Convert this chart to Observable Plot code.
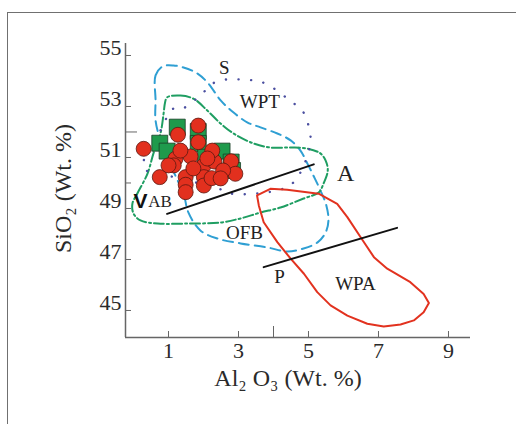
<!DOCTYPE html>
<html><head><meta charset="utf-8">
<script src="https://cdn.jsdelivr.net/npm/d3@7"></script>
<script src="https://cdn.jsdelivr.net/npm/@observablehq/plot@0.6"></script>
<style>
html,body{margin:0;padding:0;background:#fff;}
#wrap{position:relative;width:516px;height:424px;overflow:hidden;background:#fff;}
#border{position:absolute;left:7px;top:12px;width:620px;height:620px;border:1.5px solid #707070;box-sizing:border-box;}
#chart{position:absolute;left:0;top:0;}
</style></head><body>
<div id="wrap"><div id="border"></div><div id="chart"></div></div>
<script>
// Axis ticks
const xTickLabels = [1, 3, 5, 7, 9];
const xLongTicks = [4];
const yTickLabels = [45, 47, 49, 51, 53, 55];
const yShortTicks = [50];
const yLongTicks = [52];
const xDomain = [-0.229, 9.629];
const yDomain = [43.94, 55.47];

// Samples: red circles [Al2O3, SiO2]
const redCircles = [
  [0.29,51.34],[1.27,51.89],[1.85,52.25],[1.85,51.60],[1.20,50.95],[1.63,51.04],
  [0.75,50.23],[1.49,50.23],[1.49,49.93],[1.49,49.64],[2.01,50.69],[2.01,50.23],
  [2.01,49.90],[2.23,50.19],[2.31,50.84],[2.79,50.85],[2.91,50.36],[2.56,50.49],
  [1.15,50.69],[1.34,51.27],[2.25,51.27],[1.71,50.57],[1.00,50.69],[2.11,50.96],[2.49,50.18]
];
// Samples: green squares [Al2O3, SiO2]
const greenSquares = [
  [0.75,51.56],[0.96,51.25],[1.25,52.19],[1.85,52.02],[1.85,51.55],
  [2.06,51.01],[2.53,51.25],[2.79,50.82],[2.83,50.49]
];

// Field boundaries
const ofbField = [
  [0.63,53.24],[0.63,54.22],[0.83,54.57],[1.14,54.61],[1.43,54.53],[1.83,54.29],[2.14,53.90],
  [2.49,53.24],[2.86,52.76],[3.26,52.37],[3.63,52.18],[4.11,51.94],[4.49,51.67],[4.77,51.27],
  [4.97,50.76],[5.14,50.29],[5.34,49.71],[5.51,49.12],[5.57,48.53],[5.49,48.06],[5.26,47.67],
  [4.86,47.43],[4.40,47.31],[3.83,47.47],[3.06,47.63],[2.40,47.82],[1.91,48.14],[1.57,48.84],
  [1.43,49.59],[1.26,50.10],[1.00,50.88],[0.77,51.67],[0.63,52.45]
];
const vabField = [
  [0.96,53.36],[1.34,53.43],[1.72,53.30],[2.11,52.84],[2.49,52.33],[2.86,51.94],[3.43,51.55],
  [3.91,51.39],[4.49,51.39],[4.96,51.35],[5.34,51.16],[5.49,50.88],[5.55,50.49],[5.43,49.98],
  [5.29,49.63],[4.86,49.39],[4.20,49.04],[3.63,48.84],[3.06,48.61],[2.49,48.45],[1.54,48.41],
  [0.69,48.41],[0.20,48.53],[0.00,48.80],[-0.03,49.20],[0.11,49.59],[0.40,50.37],[0.57,51.16],
  [0.77,51.94],[0.86,52.73],[0.90,53.15]
];
const wptField = [
  [0.29,50.61],[0.77,52.06],[1.14,52.92],[1.40,52.92],[1.91,53.43],[2.26,53.90],[2.66,54.06],
  [3.06,54.06],[3.43,54.02],[3.77,53.90],[4.40,53.31],[4.86,52.76],[5.00,52.25],[5.06,51.67],
  [4.94,50.96],[4.77,50.41],[4.57,50.02],[4.29,49.78],[3.54,49.59],[2.77,49.59],[2.43,49.78],
  [1.34,50.18]
];
const wpaField = [
  [3.53,49.51],[3.91,49.77],[4.39,49.73],[5.29,49.58],[5.82,49.18],[6.11,48.66],[6.49,47.87],
  [6.87,47.09],[7.25,46.64],[7.91,46.11],[8.29,45.65],[8.44,45.29],[8.29,44.93],[8.01,44.61],
  [7.63,44.45],[7.15,44.37],[6.68,44.48],[6.11,44.80],[5.63,45.20],[5.25,45.72],[4.87,46.44],
  [4.49,47.03],[4.11,47.68],[3.72,48.46],[3.58,49.12]
];
const lineA = [[0.96,48.79],[5.15,50.73]];
const lineP = [[3.72,46.70],[7.53,48.24]];

// Field labels
const fieldLabels = ["S", "WPT", "A", "OFB", "P", "WPA"];
const fieldLabelX = [2.59, 3.61, 6.06, 3.17, 4.17, 6.34];
const fieldLabelY = [54.29, 52.96, 50.06, 47.82, 46.06, 45.82];
const fieldLabelSize = [19, 19, 24, 19, 19, 19];
const labelRows = fieldLabels.map((t, i) => ({t, x: fieldLabelX[i], y: fieldLabelY[i], s: fieldLabelSize[i]}));

const serif = "'Liberation Serif', 'Times New Roman', serif";

const chart = Plot.plot({
  width: 516, height: 424,
  marginLeft: 125, marginRight: 46, marginTop: 43, marginBottom: 87,
  x: {domain: xDomain},
  y: {domain: yDomain},
  style: {fontFamily: serif, color: "#2a2a2a", background: "transparent", overflow: "visible"},
  marks: [
    Plot.line(ofbField, {x: d => d[0], y: d => d[1], curve: "catmull-rom-closed", stroke: "#2f9fd3", strokeWidth: 2, strokeDasharray: "10,6"}),
    Plot.line(vabField, {x: d => d[0], y: d => d[1], curve: "catmull-rom-closed", stroke: "#1f9e62", strokeWidth: 2, strokeDasharray: "10,3,2,3"}),
    Plot.line(wptField, {x: d => d[0], y: d => d[1], curve: "catmull-rom-closed", stroke: "#4b4fa0", strokeWidth: 2.4, strokeDasharray: "0.1,12.5", strokeLinecap: "round"}),
    Plot.line(wpaField, {x: d => d[0], y: d => d[1], curve: "linear-closed", stroke: "#e2321f", strokeWidth: 2}),
    Plot.line(lineA, {x: d => d[0], y: d => d[1], stroke: "#111", strokeWidth: 2}),
    Plot.line(lineP, {x: d => d[0], y: d => d[1], stroke: "#111", strokeWidth: 2}),
    Plot.dot(greenSquares, {x: d => d[0], y: d => d[1], symbol: "square", r: 9, fill: "#1f9a4c", stroke: "#1b3d27", strokeWidth: 0.8}),
    Plot.dot(redCircles, {x: d => d[0], y: d => d[1], r: 7.5, fill: "#e2301e", stroke: "#5a1810", strokeWidth: 0.8}),
    Plot.text(labelRows, {x: "x", y: "y", text: "t", fontSize: d => d.s, textAnchor: "middle", lineAnchor: "bottom", fill: "#222", fontFamily: serif}),
    Plot.text(["V"], {x: () => 0.0, y: () => 49.0, textAnchor: "start", lineAnchor: "bottom", fontSize: 21, fontWeight: "bold", fontFamily: "'Liberation Sans', Arial, sans-serif", fill: "#111"}),
    Plot.text(["AB"], {x: () => 0.42, y: () => 49.04, textAnchor: "start", lineAnchor: "bottom", fontSize: 17, fontFamily: serif, fill: "#222"}),
    // axis lines
    Plot.ruleX([xDomain[0]], {stroke: "#666", strokeWidth: 1.5}),
    Plot.ruleY([yDomain[0]], {stroke: "#666", strokeWidth: 1.5}),
    // axes with inward ticks
    Plot.axisX({ticks: xTickLabels, tickSize: -6, tickPadding: 11, fontSize: 22, fontFamily: serif, stroke: "#666", label: null}),
    Plot.axisX({ticks: xLongTicks, tickSize: -11, tickFormat: () => "", stroke: "#666", label: null}),
    Plot.axisY({ticks: yTickLabels, tickSize: -6, tickPadding: 10, fontSize: 22, fontFamily: serif, lineAnchor: "bottom", stroke: "#666", label: null}),
    Plot.axisY({ticks: yShortTicks, tickSize: -6, tickFormat: () => "", stroke: "#666", label: null}),
    Plot.axisY({ticks: yLongTicks, tickSize: -12, tickFormat: () => "", stroke: "#666", label: null}),
    // axis titles
    Plot.text(["Al\u2082 O\u2083 (Wt. %)"], {frameAnchor: "bottom", textAnchor: "middle", dx: -10, dy: 48, lineAnchor: "bottom", fontSize: 24, fontFamily: serif, fill: "#2a2a2a"}),
    Plot.text(["SiO\u2082 (Wt. %)"], {frameAnchor: "left", textAnchor: "middle", rotate: -90, dx: -55, dy: -2, lineAnchor: "bottom", fontSize: 24, fontFamily: serif, fill: "#2a2a2a"})
  ]
});
document.getElementById("chart").appendChild(chart);
</script>
</body></html>
